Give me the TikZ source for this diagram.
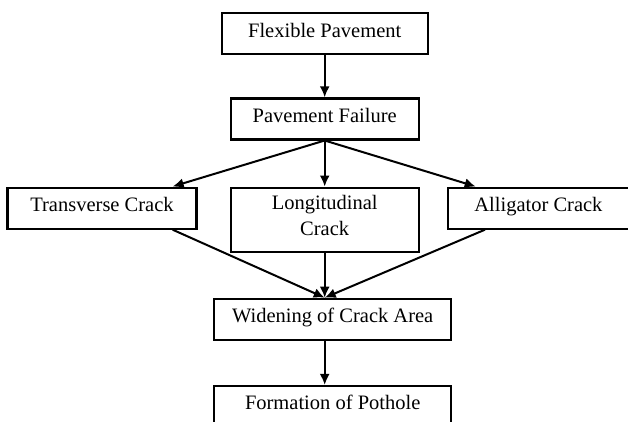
\documentclass[tikz,border=0pt]{standalone}
\usepackage{fontspec}
\setmainfont{Liberation Serif}
\usetikzlibrary{arrows.meta, positioning}
\tikzset{%
  >={Latex[width=10pt,length=11pt]},
  % Specifications for style of nodes:
        base/.style = {rectangle, draw=black, line width=2.2pt,
                           minimum height=41pt, inner sep=0pt,
                           text height=15pt, text depth=8pt,
                           text centered, font=\fontsize{20.5}{26}\selectfont},
        stage/.style = {base, minimum width=188pt},
        crack/.style = {base, minimum width=185pt},
        result/.style = {base, minimum width=237pt},
        link/.style = {->, line width=2pt}
}

\begin{document}
\begin{tikzpicture}[x=1pt, y=1pt, node distance=43pt]
  \useasboundingbox (0,0) rectangle (628,-421.5);
  % Specification of nodes (position, etc.)
    \node (flex)     [stage, minimum width=206pt] at (324.7,-33.7) {Flexible Pavement};
    \node (fail)     [stage, below=42pt of flex] {Pavement Failure};
    \node (longi)    [stage, minimum height=64pt, below=46pt of fail,
                      align=center, text height=, text depth=]
                     {Longitudinal\\Crack\rule[-8pt]{0pt}{8pt}};
    \node (trans)    [crack, minimum width=189pt, left=32pt of longi.north west, anchor=north east] {Transverse Crack};
    \node (alli)     [crack, minimum width=181pt, right=27pt of longi.north east, anchor=north west] {Alligator Crack};
    \node (widen)    [result, below=45pt of longi, xshift=8pt] {Widening of Crack Area};
    \node (pot)      [result, minimum height=40pt, below=44pt of widen] {Formation of Pothole};
    \coordinate (join) at (longi.south |- widen.north);

  % Specification of lines between nodes specified above
  \draw[link]     (flex) -- (fail);
  \draw[link]     (fail) -- (longi);
  \draw[link]     (fail.south) -- (trans.17);
  \draw[link]     (fail.south) -- (alli.161);
  \draw[link]     (longi) -- (join);
  \draw[link]     (trans.-17.5) -- (join);
  \draw[link]     (alli.202) -- (join);
  \draw[link]     (widen.south -| join) -- (pot.north -| join);
  \end{tikzpicture}
\end{document}
